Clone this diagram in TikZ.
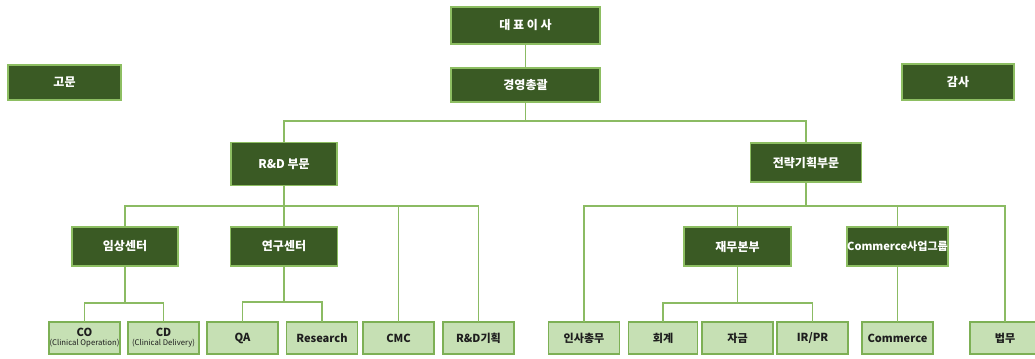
\documentclass[tikz,border=0pt]{standalone}
\usepackage{fontspec}
\setmainfont{Noto Sans CJK KR}
\definecolor{darkfill}{HTML}{3A5A24}
\definecolor{darkline}{HTML}{8DBE62}
\definecolor{lightfill}{HTML}{C6E0B4}
\definecolor{lightline}{HTML}{7DB055}
\definecolor{conn}{HTML}{8BBB63}
\definecolor{lighttext}{HTML}{1E1E1E}
\tikzset{
  sz/.style 2 args={minimum width=#1*0.75pt, minimum height=#2*0.75pt},
  dbox/.style={draw=darkline, fill=darkfill, line width=1.4pt, inner sep=0pt, outer sep=0pt,
    text=white, font=\fontsize{9}{10}\selectfont\bfseries, align=center},
  lbox/.style={draw=lightline, fill=lightfill, line width=1.4pt, inner sep=0pt, outer sep=0pt,
    text=lighttext, font=\fontsize{8.3}{9}\selectfont\bfseries, align=center},
  link/.style={draw=conn, line width=1.4pt},
}
\begin{document}
\begin{tikzpicture}[x=0.75pt, y=-0.75pt]
\useasboundingbox (0,0) rectangle (1035,358);
% top level
\node[dbox, sz={149}{37}] (ceo) at (525.5,25.5) {대 표 이 사};
\node[dbox, sz={149}{34}] (gm) at (525.5,85) {경영총괄};
\node[dbox, sz={113}{35}] (adv) at (64.5,82.5) {고문};
\node[dbox, sz={112}{36}] (aud) at (958,82) {감사};
% divisions
\node[dbox, sz={106}{43}] (rd) at (284,164) {R\&D 부문};
\node[dbox, sz={111}{39}] (st) at (806,162.5) {전략기획부문};
% centers
\node[dbox, sz={106}{39}] (im) at (125,246.5) {임상센터};
\node[dbox, sz={107}{39}] (rc) at (284,246.5) {연구센터};
\node[dbox, sz={107}{39}] (fin) at (737.5,246.5) {재무본부};
\node[dbox, sz={100}{39}, font=\fontsize{8.3}{9}\selectfont\bfseries] (cg) at (897.5,246.5) {Commerce사업그룹};
% leaves
\node[lbox, sz={71}{32}] (co) at (84.5,338) {CO\\[-2.5pt]{\fontsize{5.8}{7}\selectfont\mdseries (Clinical Operation)}};
\node[lbox, sz={71}{32}] (cd) at (163.5,338) {CD\\[-2.5pt]{\fontsize{5.8}{7}\selectfont\mdseries (Clinical Delivery)}};
\node[lbox, sz={71}{32}] (qa) at (242.5,338) {QA};
\node[lbox, sz={71}{32}] (res) at (322,338) {Research};
\node[lbox, sz={71}{32}] (cmc) at (398.5,338) {CMC};
\node[lbox, sz={71}{32}] (rdp) at (478.5,338) {R\&D기획};
\node[lbox, sz={71}{32}] (hr) at (584,338) {인사총무};
\node[lbox, sz={69}{32}] (acc) at (663,338) {회계};
\node[lbox, sz={71}{32}] (cash) at (737.5,338) {자금};
\node[lbox, sz={71}{32}] (ir) at (812.5,338) {IR/PR};
\node[lbox, sz={71}{32}] (com) at (897.5,338) {Commerce};
\node[lbox, sz={70}{32}] (law) at (1005,338) {법무};
% junctions
\coordinate (j1) at (525.5,121);
\coordinate (j2) at (284,206);
\coordinate (j3) at (806,206);
\coordinate (j4) at (125,303);
\coordinate (j5) at (284,302);
\coordinate (j6) at (737.5,303);
% connectors
\draw[link] (ceo) -- (gm);
\draw[link] (gm) -- (j1);
\draw[link] (rd.north) |- (j1) -| (st.north);
\draw[link] (rd) -- (j2);
\draw[link] (im.north) |- (j2) -| (rdp.north);
\draw[link] (cmc.north) |- (j2);
\draw[link] (rc) -- (j2);
\draw[link] (st) -- (j3);
\draw[link] (hr.north) |- (j3) -| (law.north);
\draw[link] (fin.north) |- (j3);
\draw[link] (cg.north) |- (j3);
\draw[link] (im) -- (j4);
\draw[link] (co.north) |- (j4) -| (cd.north);
\draw[link] (rc) -- (j5);
\draw[link] (qa.north) |- (j5) -| (res.north);
\draw[link] (fin) -- (j6);
\draw[link] (acc.north) |- (j6) -| (ir.north);
\draw[link] (cg) -- (com);
\end{tikzpicture}
\end{document}
